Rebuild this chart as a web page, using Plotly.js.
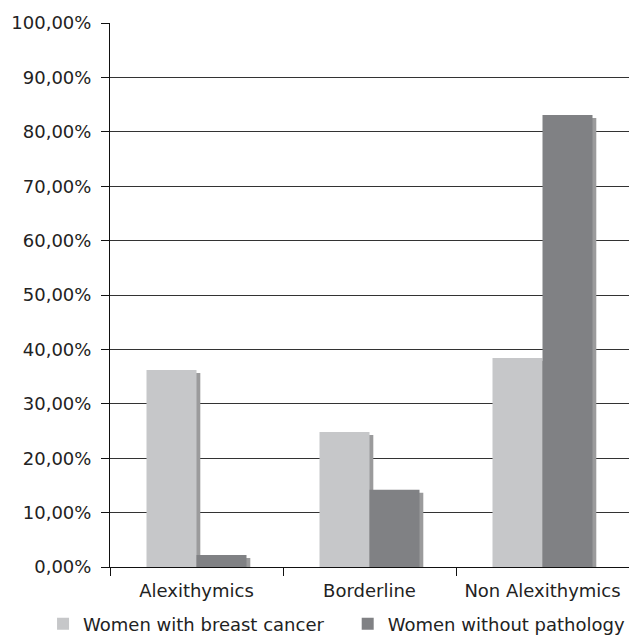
<!DOCTYPE html>
<html><head><meta charset="utf-8">
<script src="https://cdn.plot.ly/plotly-3.0.1.min.js"></script>
<style>html,body{margin:0;padding:0;background:#fff}#chart{width:629px;height:636px}</style>
</head><body><div id="chart"></div>
<script>
const categories = ["Alexithymics", "Borderline", "Non Alexithymics"];
const seriesNames = ["Women with breast cancer", "Women without pathology"];
const breastCancer = [36.2, 24.8, 38.4];
const withoutPathology = [2.2, 14.2, 83.1];
const yTickVals = [0,10,20,30,40,50,60,70,80,90,100];
const yTickText = ["0,00%","10,00%","20,00%","30,00%","40,00%","50,00%","60,00%","70,00%","80,00%","90,00%","100,00%"];

const lightC = "#c6c7c9", darkC = "#808184", shadowC = "#9b9b9c";
const bw = 0.289, sh = 0.022, drop = -0.55;
const font = {family: "DejaVu Sans, Verdana, sans-serif", size: 18, color: "#222"};

const traces = [
  {type:"bar", x:categories, y:breastCancer, base:drop, offset:-bw+sh, width:bw, marker:{color:shadowC}, showlegend:false, hoverinfo:"skip"},
  {type:"bar", x:categories, y:withoutPathology, base:drop, offset:sh, width:bw, marker:{color:shadowC}, showlegend:false, hoverinfo:"skip"},
  {type:"bar", name:seriesNames[0], x:categories, y:breastCancer, offset:-bw, width:bw, marker:{color:lightC}, legend:"legend"},
  {type:"bar", name:seriesNames[1], x:categories, y:withoutPathology, offset:0, width:bw, marker:{color:darkC}, legend:"legend2"}
];

const legBase = {orientation:"h", xanchor:"left", y:-0.071, yanchor:"top", font:font, itemwidth:30, bgcolor:"rgba(0,0,0,0)"};
const layout = {
  width:629, height:636,
  margin:{l:110, r:0, t:23, b:69, autoexpand:false},
  barmode:"overlay",
  paper_bgcolor:"#fff", plot_bgcolor:"#fff",
  font: font,
  showlegend:true,
  legend: Object.assign({}, legBase, {x:-0.129}),
  legend2: Object.assign({}, legBase, {x:0.458}),
  xaxis:{type:"category", range:[-0.5,2.5], showline:true, linecolor:"#111", linewidth:1, ticks:"outside", tickson:"boundaries", ticklen:8, tickcolor:"#111", showgrid:false, tickfont:font, ticklabelstandoff:7, fixedrange:true, automargin:false},
  yaxis:{range:[0,100], tickvals:yTickVals, ticktext:yTickText, showline:true, linecolor:"#111", linewidth:1, ticks:"outside", ticklen:8, tickcolor:"#111", showgrid:true, gridcolor:"#333", gridwidth:1, zeroline:false, tickfont:font, ticklabelstandoff:6, fixedrange:true, automargin:false}
};
Plotly.newPlot("chart", traces, layout, {staticPlot:true, displayModeBar:false});
</script></body></html>
